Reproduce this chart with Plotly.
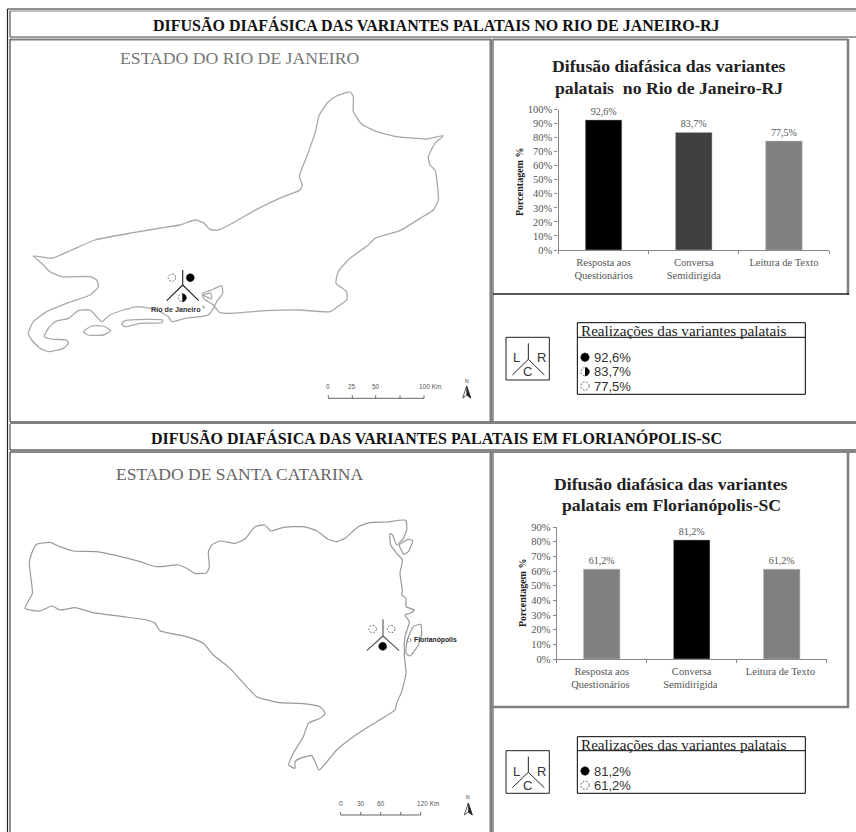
import numpy as np
import plotly.graph_objects as go

W, H = 856, 832

# ---- data ----
cats_rj = ["Resposta aos<br>Questionários", "Conversa<br>Semidirigida", "Leitura de Texto"]
vals_rj = [92.6, 83.7, 77.5]
cols_rj = ["#000000", "#404040", "#808080"]
labels_rj = ["92,6%", "83,7%", "77,5%"]
cats_sc = ["Resposta aos<br>Questionários ", "Conversa<br>Semidirigida ", "Leitura de Texto "]
vals_sc = [61.2, 81.2, 61.2]
cols_sc = ["#808080", "#000000", "#808080"]
labels_sc = ["61,2%", "81,2%", "61,2%"]

# map outlines (x, y in image pixels x3)
rj_outline = [(100,768),(155,775),(215,750),(285,720),(400,698),(495,682),(540,675),(585,660),(610,668),(630,688),(655,690),(700,668),(770,628),(850,590),(900,570),(907,555),(898,530),(920,470),(945,400),(958,345),(985,305),(1010,288),(1050,276),(1060,290),(1060,335),(1085,372),(1130,395),(1190,410),(1280,417),(1330,407),(1305,430),(1285,470),(1290,495),(1305,510),(1315,600),(1300,630),(1260,655),(1200,692),(1125,715),(1105,735),(1050,775),(1015,815),(1008,850),(1040,875),(1040,900),(1020,915),(990,935),(900,930),(800,932),(690,940),(660,938),(640,915),(610,895),(608,880),(630,872),(665,857),(668,880),(650,905),(640,925),(625,945),(600,950),(555,955),(515,965),(505,950),(470,930),(415,920),(370,930),(330,945),(305,965),(290,950),(270,930),(235,932),(205,955),(165,965),(145,985),(133,1010),(160,1018),(200,1020),(205,1030),(190,1045),(145,1055),(120,1045),(95,1020),(85,1000),(100,965),(140,935),(200,910),(270,885),(295,860),(290,840),(270,830),(185,830),(150,815),(125,790),(100,768)]
rj_islands = [
    [(610,885),(632,880),(635,897),(610,885)],
    [(250,995),(275,978),(310,978),(332,992),(310,1005),(265,1005),(250,995)],
    [(365,972),(375,962),(440,958),(488,960),(485,968),(420,970),(375,980),(365,972)],
]
sc_outline = [(110,373),(150,367),(180,380),(220,393),(290,395),(350,407),(420,425),(470,440),(535,435),(560,445),(585,460),(620,458),(628,440),(625,395),(635,375),(660,363),(705,370),(735,357),(765,320),(795,315),(812,333),(850,322),(910,320),(950,332),(985,358),(1010,365),(1035,355),(1075,320),(1110,308),(1160,306),(1217,301),(1220,330),(1210,355),(1190,375),(1178,345),(1170,340),(1172,375),(1190,400),(1207,420),(1200,460),(1207,510),(1205,525),(1218,535),(1218,560),(1243,570),(1230,580),(1215,585),(1228,605),(1215,650),(1213,705),(1218,760),(1205,815),(1190,850),(1185,870),(1130,905),(1060,950),(1010,990),(985,1020),(957,1050),(945,1025),(935,1007),(900,1015),(885,1025),(885,1045),(866,1035),(880,1000),(910,950),(925,910),(960,895),(975,880),(960,860),(900,850),(840,848),(770,830),(740,800),(690,745),(640,705),(610,670),(560,650),(480,632),(465,610),(440,600),(370,590),(280,578),(225,563),(180,570),(155,558),(120,573),(75,565),(97,520),(88,430),(95,400),(110,373)]
sc_islands = [
    [(1198,375),(1225,358),(1238,362),(1225,395),(1212,403),(1198,375)],
    [(1218,700),(1222,660),(1240,620),(1262,613),(1265,640),(1255,675),(1230,708),(1218,700)],
]

title_rj = "DIFUSÃO DIAFÁSICA DAS VARIANTES PALATAIS NO RIO DE JANEIRO-RJ"
title_sc = "DIFUSÃO DIAFÁSICA DAS VARIANTES PALATAIS EM FLORIANÓPOLIS-SC"

fig = go.Figure()
PX = dict(xaxis="x3", yaxis="y3", hoverinfo="skip", showlegend=False)
GRAY = "#7f7f7f"


def line(xs, ys, color="#000", width=1, dash=None, smooth=False):
    ld = dict(color=color, width=width, dash=dash)
    if smooth:
        ld.update(shape="spline", smoothing=0.5)
    fig.add_trace(go.Scatter(x=list(xs), y=list(ys), mode="lines", line=ld, **PX))


def seg(x0, y0, x1, y1, color="#000", width=1):
    line([x0, x1], [y0, y1], color, width)


def zoomed(points, ox=0, oy=0):
    return [ox + p[0] / 3 for p in points], [oy + p[1] / 3 for p in points]


def circle(cx, cy, r):
    t = np.linspace(0, 2 * np.pi, 41)
    return cx + r * np.cos(t), cy + r * np.sin(t)


def open_dot(cx, cy, r=3.8):
    xs, ys = circle(cx, cy, r)
    line(xs, ys, "#666", 0.9, "2px,1.5px")


def full_dot(cx, cy, r=4):
    xs, ys = circle(cx, cy, r)
    fig.add_trace(go.Scatter(x=xs, y=ys, mode="lines", fill="toself", fillcolor="#000",
                             line=dict(color="#000", width=0.5), **PX))


def half_dot(cx, cy, r=4):
    open_dot(cx, cy, r)
    t = np.linspace(-np.pi / 2, np.pi / 2, 21)
    fig.add_trace(go.Scatter(x=cx + r * np.cos(t), y=cy + r * np.sin(t), mode="lines",
                             fill="toself", fillcolor="#000",
                             line=dict(color="#000", width=0.5), **PX))


def text(x, y, s, size, color="#000", family="Liberation Sans", anchor="center", bold=False, angle=0):
    anns.append(dict(x=x - (1.5 if anchor == "left" else 0), y=y, xref="x3", yref="y3",
                     text=f"<b>{s}</b>" if bold else s, textangle=angle,
                     showarrow=False, xanchor=anchor, yanchor="middle",
                     font=dict(size=size, color=color, family=family)))


anns = []

# ---- table frames ----
for args in [
    (7.5, 9, 856, 9, "#222", 1.2), (10, 11, 856, 11, GRAY, 1),
    (7.5, 9, 7.5, 832, "#222", 1.2), (10, 11, 10, 37, "#333", 1),
    (10, 37, 856, 37, GRAY, 1.5), (10, 39.5, 491, 39.5, GRAY, 2),
    (10, 39, 10, 422, "#444", 1.2), (491, 39, 491, 422, GRAY, 3),
    (493, 39.5, 848, 39.5, GRAY, 2), (848, 39, 848, 295, GRAY, 2.5),
    (493, 39, 493, 295, GRAY, 1.5), (493, 294, 849, 294, "#222", 1.5),
    (493, 295, 493, 422, GRAY, 1.5),
    (10, 422.5, 856, 422.5, GRAY, 3),
    (10, 424, 10, 450, "#333", 1),
    (10, 450, 856, 450, "#111", 1.2), (10, 452, 856, 452, "#111", 1.2),
    (10, 452, 10, 832, "#444", 1.2), (491, 452, 491, 832, GRAY, 3),
    (848, 452, 848, 708, GRAY, 2.5), (493, 452, 493, 832, GRAY, 1.5),
    (493, 707, 849, 707, GRAY, 2.5),
]:
    seg(*args)

text(436, 25, title_rj, 16, "#111", "Liberation Serif", bold=True)
text(436, 437.5, title_sc, 16, "#111", "Liberation Serif", bold=True)

# ---- maps ----
for outline in [rj_outline] + rj_islands:
    xs, ys = zoomed(outline)
    line(xs, ys, "#a8a8a8", 1.3, smooth=True)
for outline in [sc_outline] + sc_islands:
    xs, ys = zoomed(outline, 0, 420)
    line(xs, ys, "#999", 1.2, smooth=True)

text(239.5, 58, "ESTADO DO RIO DE JANEIRO", 17.7, "#777", "Liberation Serif")
text(239.5, 473.5, "ESTADO DE SANTA CATARINA", 17.5, "#666", "Liberation Serif")


def lcr(cx, cy, top, low, half, color="#222", width=1.1):
    seg(cx, cy, cx, top, color, width)
    seg(cx, cy, cx - half, low, color, width)
    seg(cx, cy, cx + half, low, color, width)


lcr(182.7, 285, 270, 300.7, 16)
open_dot(172, 277.7)
full_dot(190.3, 277.7)
half_dot(182.3, 297.7)
text(176, 309, "Rio de Janeiro", 7.2, "#333", bold=True)
open_dot(203.5, 307, 1.2)

lcr(383, 636, 619.3, 650.7, 16.2, "#555")
open_dot(372.7, 629)
open_dot(391.3, 629)
full_dot(382.7, 646.3)
open_dot(409, 640, 2)
text(413.5, 640, "Florianópolis", 6.8, "#222", anchor="left", bold=True)


def scale(xs, y, labels, lab_y, kms):
    seg(xs[0], y, xs[-1], y, "#555", 0.9)
    for x in xs:
        seg(x, y, x, y - 3, "#555", 0.9)
    for x, s in zip(kms, labels):
        text(x, lab_y, s, 6.5, "#555")


scale([328.3, 352.3, 375.7, 400, 424], 398.3, ["0", "25", "50", "100 Km"], 386.7, [328.3, 352, 375.7, 430])
scale([340.7, 360.7, 380.7, 400.7, 420.7], 815, ["0", "30", "60", "120 Km"], 803.3, [340.7, 360.7, 380.7, 427.5])


def north(cx, ytext, ytop, ybot):
    text(cx, ytext, "N", 5, "#333")
    fig.add_trace(go.Scatter(x=[cx, cx - 4, cx, cx + 4, cx], y=[ytop, ybot, ybot - 3, ybot, ytop],
                             mode="lines", line=dict(color="#333", width=0.8), **PX))
    fig.add_trace(go.Scatter(x=[cx, cx + 4, cx, cx], y=[ytop, ybot, ybot - 3, ytop], mode="lines",
                             fill="toself", fillcolor="#222", line=dict(color="#222", width=0.5), **PX))


north(466.7, 381, 386, 398)
north(468.3, 797, 803, 815)


# ---- legends ----
def legend_block(box_top, box_bot, head, lcr_top, lcr_bot, cy, up, low, let1, let2, rows):
    x0, x1 = 490 + 48 / 3, 490 + 178 / 3
    line([x0, x1, x1, x0, x0], [lcr_top, lcr_top, lcr_bot, lcr_bot, lcr_top], "#222", 1)
    lcr(490 + 115 / 3, cy, up, low, 16, "#222", 1)
    text(490 + 78 / 3, let1, "L", 13, "#333")
    text(490 + 155 / 3, let1, "R", 13, "#333")
    text(490 + 113 / 3, let2, "C", 13, "#333")
    bx0, bx1 = 490 + 262 / 3, 490 + 946 / 3
    line([bx0, bx1, bx1, bx0, bx0], [box_top, box_top, box_bot, box_bot, box_top], "#000", 1)
    seg(bx0, head, bx1, head, "#000", 1)
    text(bx0 + 2.7, (box_top + head) / 2 + 0.5, "Realizações das variantes palatais", 15.2,
         "#222", "Liberation Serif", anchor="left")
    for kind, label, y in rows:
        kind(490 + 285 / 3, y, 4.3)
        text(490 + 313 / 3 - 1, y, label, 13, "#333", anchor="left")


legend_block(322.7, 394.3, 337.3, 337.3, 380, 359.3, 343.3, 375, 357.7, 371.7,
             [(full_dot, "92,6%", 357.3), (half_dot, "83,7%", 371.7), (open_dot, "77,5%", 386)])
legend_block(736.7, 793.3, 750.7, 750.7, 793.3, 772.3, 756.7, 787.7, 771, 785,
             [(full_dot, "81,2%", 771), (open_dot, "61,2%", 785.3)])


# ---- bar charts ----
def bars(cats, vals, cols, labels, xa, ya, px_x, px_y, ymax, t1, t2, tx, ty1, ty2, ylab_x, ylab_y):
    fig.add_trace(go.Bar(x=cats, y=vals, marker=dict(color=cols, line=dict(color="#bbb", width=0.5)),
                         text=labels, textposition="outside", cliponaxis=False,
                         textfont=dict(size=10, color="#555", family="Liberation Serif"),
                         xaxis=xa, yaxis=ya, width=0.405, showlegend=False))
    fig.layout["xaxis" + xa[1:]] = dict(
        domain=[px_x[0] / W, px_x[1] / W], anchor=ya, type="category", automargin=False,
        tickson="boundaries", ticks="outside", ticklen=3, tickcolor="#888", ticklabelstandoff=2,
        linecolor="#888", linewidth=1.3, showgrid=False, tickangle=0,
        tickfont=dict(size=10.5, color="#555", family="Liberation Serif"),
    )
    fig.layout["yaxis" + ya[1:]] = dict(
        domain=[1 - px_y[1] / H, 1 - px_y[0] / H], anchor=xa, range=[0, ymax], dtick=10,
        ticksuffix="%", ticks="outside", ticklen=3, tickcolor="#888", linecolor="#888",
        linewidth=1.3, showgrid=False, zeroline=False, automargin=False,
        tickfont=dict(size=10.5, color="#555", family="Liberation Serif"),
    )
    text(ylab_x, ylab_y, "Porcentagem %", 10, "#222", "Liberation Serif", bold=True, angle=-90)
    text(tx, ty1, t1, 17.7, "#222", "Liberation Serif", bold=True)
    text(tx, ty2, t2, 17.7, "#222", "Liberation Serif", bold=True)


bars(cats_rj, vals_rj, cols_rj, labels_rj, "x", "y", (558.5, 829), (109.5, 250), 100,
     "Difusão diafásica das variantes", "palatais&#160;&#160;no Rio de Janeiro-RJ", 669, 66, 87.5, 519, 182)
bars(cats_sc, vals_sc, cols_sc, labels_sc, "x2", "y2", (556.7, 826.7), (527, 659), 90,
     "Difusão diafásica das variantes", "palatais em Florianópolis-SC", 671, 483.5, 504.5, 522, 593)

fig.update_layout(
    width=W, height=H, margin=dict(l=0, r=0, t=0, b=0, pad=0), autosize=False,
    paper_bgcolor="#fff", plot_bgcolor="rgba(0,0,0,0)", showlegend=False, annotations=anns,
    xaxis3=dict(domain=[0, 1], range=[0, W], visible=False, fixedrange=True, automargin=False),
    yaxis3=dict(domain=[0, 1], range=[H, 0], visible=False, fixedrange=True, automargin=False),
    bargap=0.6,
)
fig.write_html("out.html", config=dict(displayModeBar=False, responsive=False),
               post_script="document.body.style.margin='0';document.documentElement.style.overflow='hidden';")
